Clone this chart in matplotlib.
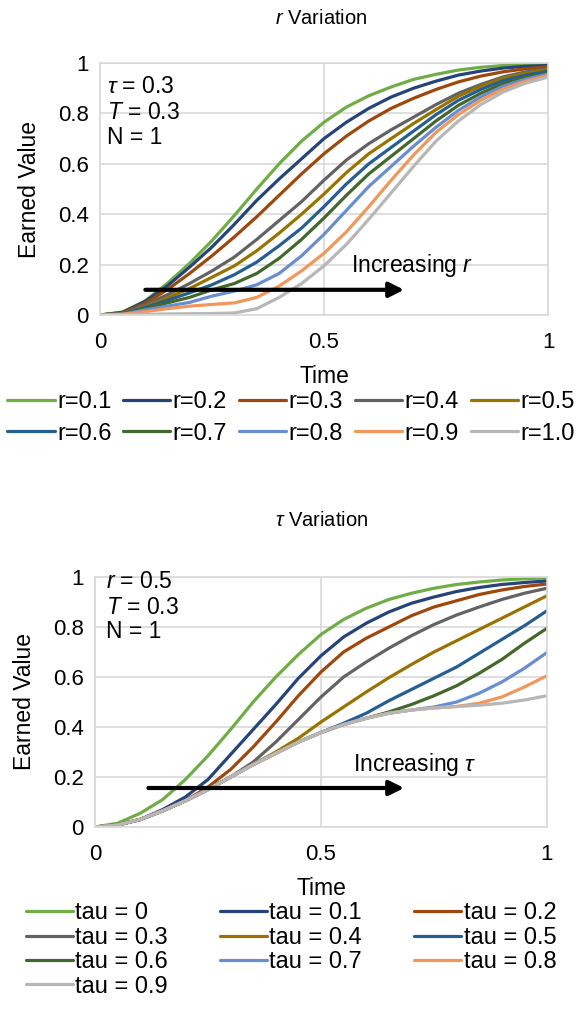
import matplotlib
matplotlib.use('Agg')
import matplotlib.pyplot as plt

plt.rcParams['font.family'] = ['Liberation Sans', 'DejaVu Sans']
plt.rcParams['mathtext.fontset'] = 'custom'
plt.rcParams['mathtext.rm'] = 'Liberation Sans'
plt.rcParams['mathtext.it'] = 'Liberation Sans:italic'

# time axis (read at steps of 0.05)
time = [0, 0.05, 0.1, 0.15, 0.2, 0.25, 0.3, 0.35, 0.4, 0.45, 0.5,
        0.55, 0.6, 0.65, 0.7, 0.75, 0.8, 0.85, 0.9, 0.95, 1.0]

colors = ['#70AD47', '#264478', '#9E480E', '#636363', '#997300',
          '#255E91', '#43682B', '#698ED0', '#F1975A', '#B7B7B7']

# top chart: r variation
r_labels = ['r=0.1', 'r=0.2', 'r=0.3', 'r=0.4', 'r=0.5',
            'r=0.6', 'r=0.7', 'r=0.8', 'r=0.9', 'r=1.0']
r01 = [0, 0.012, 0.055, 0.125, 0.205, 0.295, 0.395, 0.50, 0.60, 0.69, 0.765, 0.825, 0.87, 0.905, 0.935, 0.955, 0.972, 0.983, 0.99, 0.995, 0.997]
r02 = [0, 0.01, 0.053, 0.115, 0.19, 0.27, 0.36, 0.455, 0.54, 0.62, 0.70, 0.765, 0.82, 0.865, 0.9, 0.928, 0.952, 0.968, 0.98, 0.987, 0.99]
r03 = [0, 0.008, 0.046, 0.10, 0.165, 0.235, 0.31, 0.39, 0.475, 0.56, 0.64, 0.71, 0.77, 0.82, 0.86, 0.895, 0.925, 0.948, 0.965, 0.977, 0.985]
r04 = [0, 0.006, 0.04, 0.08, 0.125, 0.175, 0.23, 0.30, 0.375, 0.45, 0.535, 0.615, 0.68, 0.735, 0.785, 0.835, 0.88, 0.915, 0.945, 0.965, 0.98]
r05 = [0, 0.005, 0.033, 0.068, 0.105, 0.15, 0.195, 0.255, 0.325, 0.40, 0.48, 0.565, 0.64, 0.70, 0.76, 0.815, 0.868, 0.908, 0.94, 0.96, 0.974]
r06 = [0, 0.004, 0.029, 0.058, 0.088, 0.12, 0.16, 0.21, 0.275, 0.345, 0.43, 0.52, 0.60, 0.665, 0.73, 0.795, 0.852, 0.895, 0.93, 0.952, 0.967]
r07 = [0, 0.003, 0.024, 0.048, 0.07, 0.10, 0.125, 0.165, 0.225, 0.30, 0.385, 0.475, 0.56, 0.63, 0.70, 0.77, 0.832, 0.88, 0.918, 0.943, 0.96]
r08 = [0, 0.003, 0.02, 0.035, 0.05, 0.075, 0.095, 0.12, 0.165, 0.235, 0.32, 0.415, 0.51, 0.59, 0.67, 0.745, 0.812, 0.866, 0.908, 0.936, 0.956]
r09 = [0, 0.003, 0.013, 0.025, 0.035, 0.042, 0.048, 0.07, 0.115, 0.175, 0.245, 0.33, 0.43, 0.535, 0.635, 0.725, 0.795, 0.852, 0.897, 0.928, 0.95]
r10 = [0, 0.002, 0.003, 0.004, 0.005, 0.006, 0.008, 0.025, 0.07, 0.125, 0.195, 0.28, 0.38, 0.485, 0.59, 0.69, 0.77, 0.835, 0.885, 0.92, 0.944]
r_series = [r01, r02, r03, r04, r05, r06, r07, r08, r09, r10]

# bottom chart: tau variation
tau_labels = ['tau = 0', 'tau = 0.1', 'tau = 0.2', 'tau = 0.3', 'tau = 0.4',
              'tau = 0.5', 'tau = 0.6', 'tau = 0.7', 'tau = 0.8', 'tau = 0.9']
tau0 = [0, 0.015, 0.055, 0.11, 0.19, 0.285, 0.39, 0.50, 0.60, 0.69, 0.77, 0.83, 0.875, 0.91, 0.935, 0.955, 0.97, 0.98, 0.988, 0.993, 0.996]
tau1 = [0, 0.008, 0.03, 0.07, 0.12, 0.19, 0.29, 0.39, 0.49, 0.595, 0.685, 0.76, 0.815, 0.86, 0.895, 0.92, 0.942, 0.958, 0.97, 0.978, 0.984]
tau2 = [0, 0.008, 0.03, 0.065, 0.105, 0.16, 0.23, 0.32, 0.42, 0.525, 0.62, 0.70, 0.755, 0.80, 0.845, 0.88, 0.905, 0.93, 0.948, 0.962, 0.972]
tau3 = [0, 0.008, 0.03, 0.065, 0.105, 0.15, 0.20, 0.26, 0.34, 0.43, 0.52, 0.60, 0.66, 0.715, 0.765, 0.81, 0.848, 0.88, 0.91, 0.935, 0.955]
tau4 = [0, 0.008, 0.03, 0.065, 0.105, 0.15, 0.20, 0.25, 0.30, 0.355, 0.42, 0.48, 0.54, 0.597, 0.65, 0.70, 0.745, 0.79, 0.835, 0.88, 0.925]
tau5 = [0, 0.008, 0.03, 0.065, 0.105, 0.15, 0.20, 0.25, 0.295, 0.34, 0.378, 0.415, 0.455, 0.505, 0.55, 0.595, 0.64, 0.695, 0.75, 0.805, 0.865]
tau6 = [0, 0.008, 0.03, 0.065, 0.105, 0.15, 0.20, 0.25, 0.295, 0.34, 0.378, 0.41, 0.435, 0.46, 0.49, 0.525, 0.565, 0.615, 0.67, 0.735, 0.795]
tau7 = [0, 0.008, 0.03, 0.065, 0.105, 0.15, 0.20, 0.25, 0.295, 0.34, 0.378, 0.41, 0.435, 0.455, 0.468, 0.48, 0.50, 0.535, 0.58, 0.635, 0.698]
tau8 = [0, 0.008, 0.03, 0.065, 0.105, 0.15, 0.20, 0.25, 0.295, 0.34, 0.378, 0.41, 0.435, 0.455, 0.468, 0.476, 0.482, 0.495, 0.52, 0.56, 0.605]
tau9 = [0, 0.008, 0.03, 0.065, 0.105, 0.15, 0.20, 0.25, 0.295, 0.34, 0.378, 0.41, 0.435, 0.455, 0.468, 0.476, 0.482, 0.487, 0.495, 0.508, 0.525]
tau_series = [tau0, tau1, tau2, tau3, tau4, tau5, tau6, tau7, tau8, tau9]

FS = 16.5
LFS = 17
grid_col = '#D9D9D9'

fig = plt.figure(figsize=(5.82, 10.10), dpi=100)
ax1 = fig.add_axes([100 / 582, 1 - 315 / 1010, 448 / 582, 252 / 1010])
ax2 = fig.add_axes([95 / 582, 1 - 827 / 1010, 452 / 582, 250 / 1010])


def style(ax):
    ax.set_xlim(0, 1)
    ax.set_ylim(0, 1)
    ax.set_xticks([0, 0.5, 1])
    ax.set_xticklabels(['0', '0.5', '1'])
    ax.set_yticks([0, 0.2, 0.4, 0.6, 0.8, 1])
    ax.set_yticklabels(['0', '0.2', '0.4', '0.6', '0.8', '1'])
    ax.tick_params(length=0, labelsize=16)
    ax.tick_params(axis='x', pad=12)
    ax.tick_params(axis='y', pad=8)
    ax.grid(True, color=grid_col, lw=1.2)
    ax.set_axisbelow(True)
    for s in ax.spines.values():
        s.set_color(grid_col)
        s.set_linewidth(1.2)
    ax.set_xlabel('Time', fontsize=FS, labelpad=9)
    ax.set_ylabel('Earned Value', fontsize=FS, labelpad=12)


lines1 = []
for y, c, lab in zip(r_series, colors, r_labels):
    ln, = ax1.plot(time, y, color=c, lw=2.3, label=lab, solid_capstyle='round')
    lines1.append(ln)
style(ax1)
ax1.annotate('', xy=(0.685, 0.1), xytext=(0.095, 0.1),
             arrowprops=dict(arrowstyle='-|>', lw=3, color='black', mutation_scale=22))
ax1.text(0.56, 0.17, 'Increasing $r$', fontsize=FS)
ax1.text(0.015, 0.905, r'$\tau$ = 0.3', fontsize=FS, va='center')
ax1.text(0.015, 0.805, '$T$ = 0.3', fontsize=FS, va='center')
ax1.text(0.015, 0.705, 'N = 1', fontsize=FS, va='center')

lines2 = []
for y, c, lab in zip(tau_series, colors, tau_labels):
    ln, = ax2.plot(time, y, color=c, lw=2.3, label=lab, solid_capstyle='round')
    lines2.append(ln)
style(ax2)
ax2.annotate('', xy=(0.69, 0.156), xytext=(0.112, 0.156),
             arrowprops=dict(arrowstyle='-|>', lw=3, color='black', mutation_scale=22))
ax2.text(0.57, 0.225, r'Increasing $\tau$', fontsize=FS)
ax2.text(0.025, 0.98, '$r$ = 0.5', fontsize=FS, va='center')
ax2.text(0.025, 0.88, '$T$ = 0.3', fontsize=FS, va='center')
ax2.text(0.025, 0.78, 'N = 1', fontsize=FS, va='center')

fig.text(0.552, 1 - 18 / 1010, '$r$ Variation', fontsize=14.5, ha='center', va='center')
fig.text(0.552, 1 - 520 / 1010, r'$\tau$ Variation', fontsize=14.5, ha='center', va='center')

order1 = [0, 5, 1, 6, 2, 7, 3, 8, 4, 9]
fig.legend([lines1[i] for i in order1], [r_labels[i] for i in order1],
           loc='center', bbox_to_anchor=(0.5, 1 - 418 / 1010), ncol=5, frameon=False,
           fontsize=LFS, handlelength=2.0, handletextpad=0.1, columnspacing=0.5,
           labelspacing=0.4, borderaxespad=0, borderpad=0)

order2 = [0, 3, 6, 9, 1, 4, 7, 2, 5, 8]
fig.legend([lines2[i] for i in order2], [tau_labels[i] for i in order2],
           loc='center', bbox_to_anchor=(0.5, 1 - 950 / 1010), ncol=3, frameon=False,
           fontsize=LFS, handlelength=2.0, handletextpad=0.1, columnspacing=2.2,
           labelspacing=0.1, borderaxespad=0, borderpad=0)

fig.savefig('out.png', dpi=100)
